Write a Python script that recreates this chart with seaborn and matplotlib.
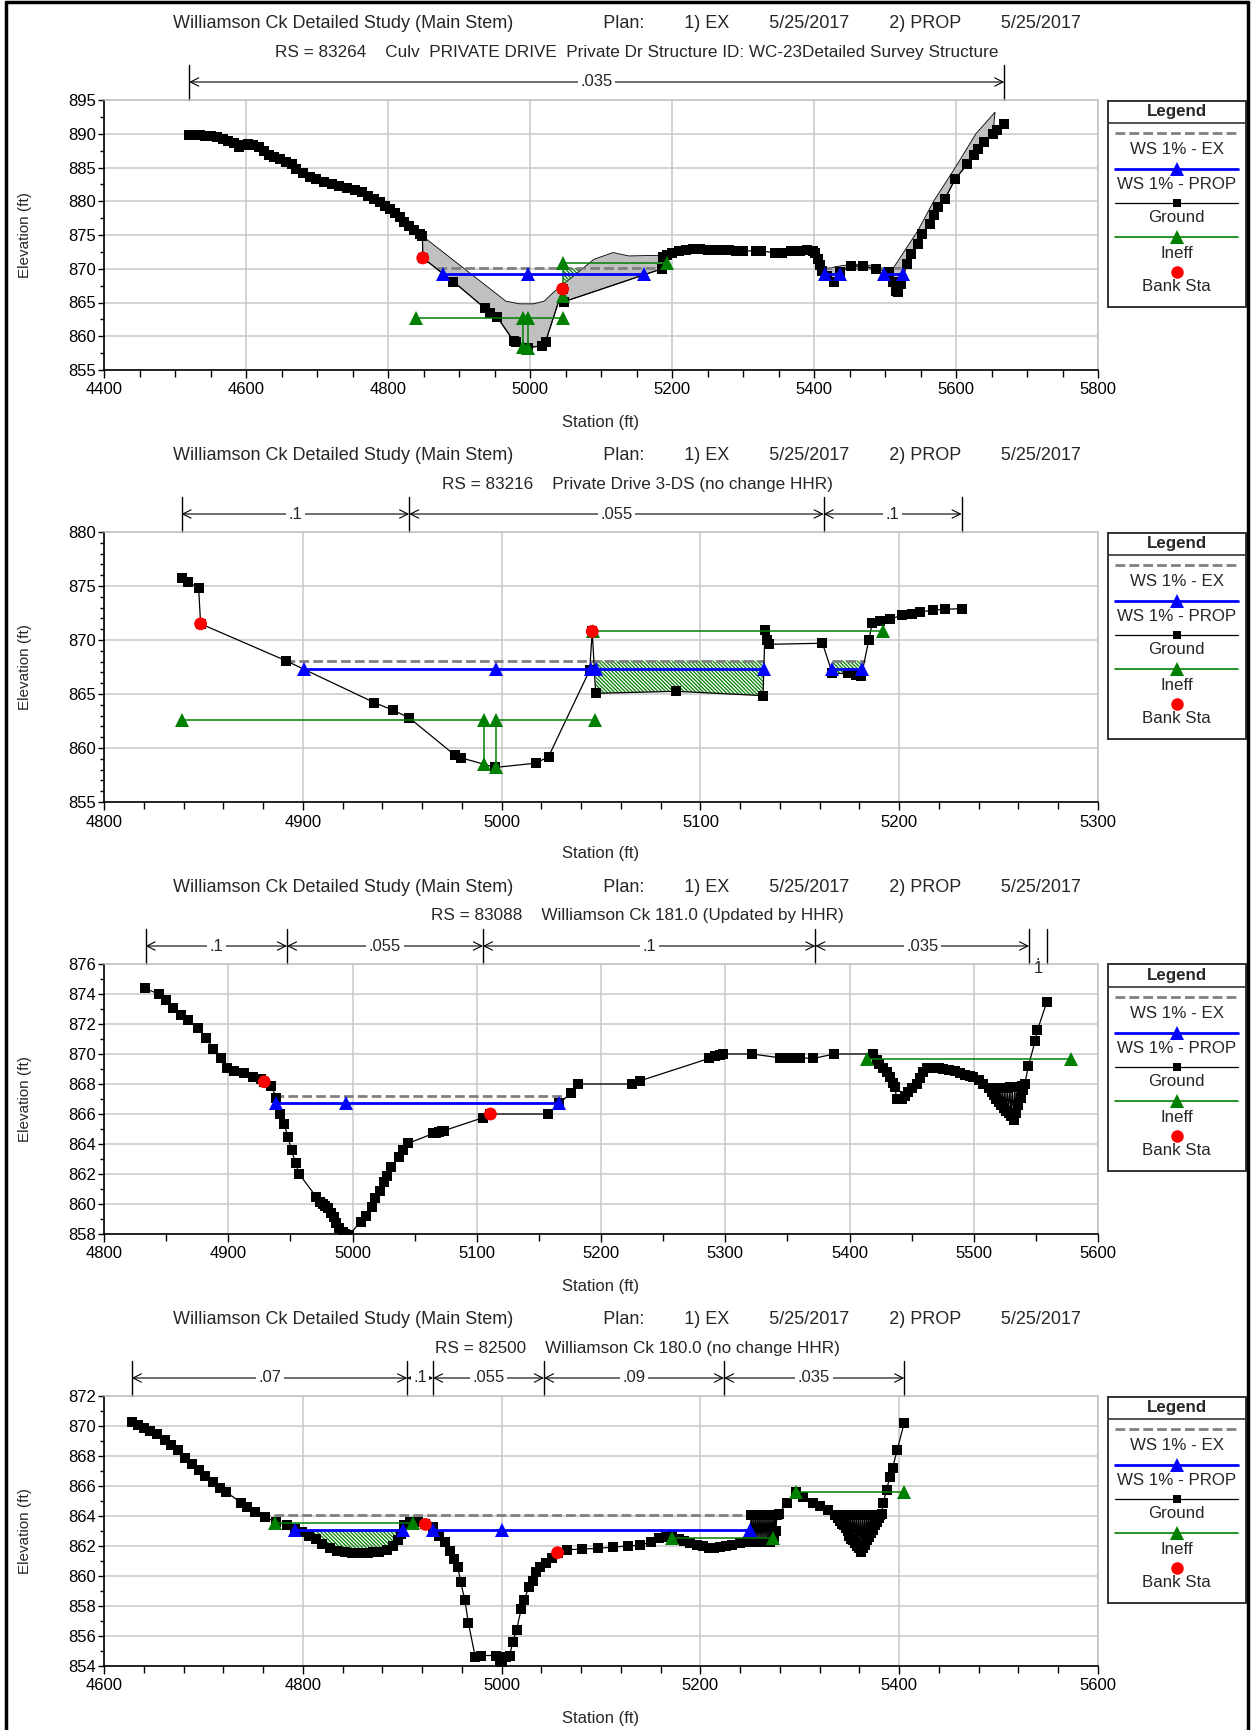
import numpy as np
import pandas as pd
import matplotlib
matplotlib.use("Agg")
import matplotlib.pyplot as plt
import matplotlib.transforms as mtransforms
from matplotlib.lines import Line2D
from matplotlib.patches import Rectangle
from matplotlib.ticker import MultipleLocator
import seaborn as sns

sns.set_theme(style="white")
plt.rcParams["font.family"] = ["Liberation Sans", "DejaVu Sans"]
plt.rcParams["hatch.linewidth"] = 0.9

# ---------------------------------------------------------------- data
plan_title = ("Williamson Ck Detailed Study (Main Stem)" + " " * 18 + "Plan:" + " " * 8
              + "1) EX" + " " * 8 + "5/25/2017" + " " * 8 + "2) PROP" + " " * 8
              + "5/25/2017")

# RS 83264 - culvert section
p1_subtitle = ("RS = 83264    Culv  PRIVATE DRIVE  Private Dr Structure ID: "
               "WC-23Detailed Survey Structure")
p1_ground = np.array([
    (4519.7, 889.85), (4526.7, 889.8), (4534.8, 889.75), (4542.9, 889.65), (4550.9, 889.6),
    (4559.0, 889.45), (4567.1, 889.26), (4575.2, 889.0), (4583.3, 888.6), (4589.8, 888.1),
    (4595.1, 888.27), (4602.2, 888.5), (4610.2, 888.4), (4618.3, 888.0), (4625.3, 887.5),
    (4631.8, 886.9), (4639.9, 886.5), (4648.0, 886.2), (4656.1, 885.8), (4664.2, 885.45),
    (4670.6, 884.8), (4680.3, 884.16), (4690.0, 883.66), (4699.2, 883.3), (4710.0, 882.9),
    (4720.8, 882.5), (4731.5, 882.2), (4742.3, 881.9), (4753.1, 881.7), (4763.9, 881.3),
    (4772.0, 880.8), (4780.0, 880.3), (4788.1, 879.85), (4796.2, 879.36), (4802.7, 878.86),
    (4809.7, 878.27), (4816.2, 877.6), (4823.2, 877.0), (4830.2, 876.4), (4836.7, 875.7),
    (4844.7, 875.15), (4848.5, 874.85), (4849.0, 871.6), (4892.0, 868.1), (4936.0, 864.2),
    (4944.0, 863.5), (4954.0, 862.8), (4977.0, 859.3), (4980.0, 859.1), (4997.0, 858.3),
    (5017.0, 858.6), (5022.0, 859.2), (5046.0, 867.0), (5047.5, 865.1), (5186.0, 870.0),
    (5188.0, 871.8), (5193.0, 872.0), (5200.0, 872.3), (5210.0, 872.6), (5220.0, 872.8),
    (5230.0, 872.9), (5240.0, 872.9), (5250.0, 872.85), (5260.0, 872.8), (5270.0, 872.8),
    (5280.0, 872.75), (5290.0, 872.7), (5300.0, 872.7), (5318.0, 872.6), (5326.0, 872.6),
    (5345.0, 872.4), (5355.0, 872.4), (5368.0, 872.6), (5380.0, 872.7), (5390.0, 872.75),
    (5398.0, 872.7), (5402.0, 872.3), (5405.0, 871.5), (5408.0, 870.5), (5411.0, 869.7),
    (5419.0, 869.0), (5428.0, 868.0), (5437.0, 869.5), (5452.0, 870.4), (5469.0, 870.4),
    (5487.0, 870.0), (5505.0, 869.5), (5511.0, 868.0), (5516.0, 866.7), (5519.0, 866.5),
    (5522.0, 867.7), (5531.0, 870.7), (5537.0, 872.2), (5546.0, 873.7), (5552.0, 875.1),
    (5564.0, 876.6), (5569.0, 877.9), (5575.0, 879.1), (5584.0, 880.3), (5599.0, 883.3),
    (5616.0, 885.5), (5625.0, 886.8), (5631.0, 887.8), (5640.0, 888.8), (5652.0, 890.0),
    (5658.0, 890.5), (5668.0, 891.5),
])
# roadway / culvert deck outlines (station, high-chord elevation)
p1_deck = [
    np.array([(4848.5, 874.85), (4966, 865.2), (4985, 864.8), (5005, 864.8), (5020, 865.2),
              (5033, 866.5), (5090, 871.4), (5117, 872.4), (5139, 871.9), (5188, 872.0)]),
    np.array([(5411, 869.7), (5430, 870.3), (5455, 870.7), (5480, 870.5), (5505, 869.8)]),
    np.array([(5511, 870.0), (5546, 875.6), (5569, 880.1), (5599, 885.0), (5628, 890.0),
              (5655, 893.2)]),
]
p1_ws_ex_elev = 870.1
p1_ws_ex = [(4869, 5187), (5411, 5528)]
p1_ws_prop_elev = 869.2
p1_ws_prop = [[4878, 4997, 5160], [5415, 5437], [5499, 5526]]
p1_ineff = [
    [(4839, 862.7), (4990, 862.7), (4990, 858.4)],
    [(4997, 858.3), (4997, 862.7), (5047, 862.7)],
    [(5047, 866.0), (5047, 870.8), (5193, 870.8)],
]
p1_hatch = [("deck0", 5047, 5076, 870.1)]
p1_bank = [(4849, 871.6), (5046, 867.0)]
p1_n_sta = [4520, 5668]
p1_n_val = [".035"]

# RS 83216
p2_subtitle = "RS = 83216    Private Drive 3-DS (no change HHR)"
p2_ground = np.array([
    (4839.0, 875.7), (4842.3, 875.4), (4847.6, 874.8), (4848.6, 871.5), (4891.3, 868.1),
    (4936.0, 864.2), (4945.4, 863.5), (4953.5, 862.8), (4976.4, 859.35), (4979.5, 859.1),
    (4996.8, 858.2), (5017.4, 858.6), (5023.6, 859.2), (5044.3, 867.2), (5045.6, 870.8),
    (5047.3, 865.06), (5087.6, 865.25), (5131.5, 864.85), (5132.5, 870.96), (5133.5, 870.0),
    (5134.4, 869.6), (5161.4, 869.7), (5166.4, 866.9), (5174.3, 866.9), (5178.5, 866.8),
    (5181.0, 866.7), (5184.7, 870.0), (5186.5, 871.6), (5190.3, 871.8), (5195.3, 871.9),
    (5201.2, 872.3), (5206.2, 872.45), (5210.4, 872.6), (5217.0, 872.75), (5223.0, 872.85),
    (5231.4, 872.9),
])
p2_ws_ex_elev = 868.1
p2_ws_ex = [(4891, 5132), (5166, 5183)]
p2_ws_prop_elev = 867.35
p2_ws_prop = [[4900.6, 4997.2, 5045.0, 5047.3, 5132.0], [5166.0, 5181.5]]
p2_ineff = [
    [(4839, 862.6), (4991, 862.6), (4991, 858.5)],
    [(4997, 858.2), (4997, 862.6), (5047, 862.6)],
    [(5046, 870.85), (5192, 870.85)],
]
p2_hatch = [("ground", 5047.3, 5131.5, 868.1), ("ground", 5166.4, 5181.0, 868.1)]
p2_bank = [(4848.6, 871.5), (5045.6, 870.8)]
p2_n_sta = [4839, 4953.5, 5162, 5231.4]
p2_n_val = [".1", ".055", ".1"]

# RS 83088
p3_subtitle = "RS = 83088    Williamson Ck 181.0 (Updated by HHR)"
p3_ground = np.array([
    (4833.2, 874.37), (4844.0, 874.0), (4849.5, 873.6), (4855.7, 873.1), (4861.8, 872.6),
    (4868.0, 872.25), (4875.7, 871.7), (4881.8, 871.1), (4888.0, 870.36), (4894.0, 869.7),
    (4898.8, 869.1), (4904.9, 868.9), (4912.6, 868.7), (4920.3, 868.5), (4926.5, 868.35),
    (4929.0, 868.15), (4934.2, 867.9), (4938.8, 867.1), (4941.8, 866.0), (4945.0, 865.35),
    (4948.0, 864.45), (4951.0, 863.6), (4954.2, 862.7), (4957.2, 862.0), (4971.0, 860.45),
    (4974.0, 860.1), (4976.0, 860.0), (4978.0, 859.85), (4980.3, 859.7), (4982.5, 859.4),
    (4985.0, 859.1), (4987.0, 858.75), (4989.5, 858.4), (4992.0, 858.15), (4994.2, 858.0),
    (4997.2, 857.95), (5006.5, 858.8), (5011.0, 859.2), (5015.7, 859.8), (5018.5, 860.4),
    (5021.8, 860.9), (5025.0, 861.5), (5028.0, 861.9), (5031.0, 862.45), (5037.2, 863.1),
    (5040.3, 863.6), (5045.0, 864.05), (5065.0, 864.7), (5067.0, 864.75), (5069.5, 864.8),
    (5072.0, 864.85), (5074.0, 864.9), (5104.9, 865.75), (5111.0, 866.0), (5157.2, 866.0),
    (5166.5, 866.7), (5175.7, 867.4), (5181.8, 868.0), (5224.9, 868.0), (5231.0, 868.2),
    (5286.8, 869.7), (5291.4, 869.85), (5295.4, 869.96), (5298.0, 870.0), (5321.5, 870.0),
    (5343.8, 869.75), (5346.5, 869.75), (5349.0, 869.75), (5352.0, 869.75), (5360.0, 869.75),
    (5370.7, 869.7), (5387.6, 870.0), (5419.0, 870.0), (5421.8, 869.6), (5424.0, 869.35),
    (5427.0, 869.1), (5430.0, 868.8), (5432.5, 868.5), (5435.0, 868.1), (5436.6, 867.8),
    (5437.9, 867.0), (5440.0, 867.0), (5442.0, 867.0), (5445.0, 867.2), (5447.3, 867.5),
    (5450.5, 867.7), (5454.0, 868.0), (5456.7, 868.4), (5459.0, 868.8), (5462.0, 869.1),
    (5467.5, 869.1), (5472.0, 869.05), (5475.5, 869.0), (5480.0, 868.95), (5485.0, 868.9),
    (5489.0, 868.75), (5493.0, 868.6), (5497.0, 868.55), (5499.7, 868.5), (5504.0, 868.3),
    (5507.8, 868.0), (5512.0, 867.7), (5515.0, 867.5), (5516.0, 867.3), (5517.0, 867.7),
    (5518.0, 867.0), (5519.0, 867.7), (5520.0, 866.8), (5521.0, 867.7), (5522.0, 866.6),
    (5523.0, 867.7), (5524.0, 866.4), (5525.0, 867.7), (5526.0, 866.2), (5527.0, 867.7),
    (5528.0, 866.1), (5529.0, 867.8), (5530.0, 865.9), (5531.0, 867.8), (5532.0, 865.6),
    (5533.0, 867.8), (5534.0, 866.1), (5535.0, 867.8), (5536.0, 866.6), (5537.0, 867.8),
    (5538.0, 867.1), (5539.0, 867.9), (5540.0, 867.6), (5541.0, 868.0), (5544.0, 869.2),
    (5549.5, 870.9), (5551.3, 871.6), (5558.9, 873.5),
])
p3_ws_ex_elev = 867.17
p3_ws_ex = [(4937, 5171)]
p3_ws_prop_elev = 866.7
p3_ws_prop = [[4938.4, 4994.8, 5166.0]]
p3_ineff = [[(5414, 869.65), (5578, 869.65)]]
p3_hatch = []
p3_bank = [(4929.0, 868.15), (5111.0, 866.0)]
p3_n_sta = [4833.5, 4947.3, 5105, 5372.5, 5544.5, 5559]
p3_n_val = [".1", ".055", ".1", ".035", ".1"]

# RS 82500
p4_subtitle = "RS = 82500    Williamson Ck 180.0 (no change HHR)"
p4_ground = np.array([
    (4627.7, 870.27), (4634.3, 870.05), (4640.0, 869.9), (4645.9, 869.7), (4653.6, 869.45),
    (4661.3, 869.1), (4667.0, 868.76), (4674.8, 868.4), (4681.3, 867.9), (4688.2, 867.45),
    (4696.0, 867.05), (4701.7, 866.65), (4709.4, 866.27), (4717.1, 865.9), (4723.0, 865.6),
    (4737.6, 864.9), (4744.1, 864.6), (4751.8, 864.27), (4761.5, 863.93), (4773.0, 863.6),
    (4784.6, 863.4), (4792.3, 863.15), (4799.0, 862.95), (4805.8, 862.7), (4813.5, 862.44),
    (4819.3, 862.15), (4827.0, 861.9), (4834.7, 861.7), (4842.4, 861.6), (4850.0, 861.55),
    (4857.5, 861.55), (4865.5, 861.55), (4871.0, 861.57), (4877.0, 861.6), (4884.8, 861.75),
    (4890.6, 861.97), (4895.6, 862.38), (4898.3, 862.8), (4902.1, 863.4), (4908.0, 863.6),
    (4915.6, 863.6), (4923.3, 863.44), (4931.0, 863.27), (4936.8, 862.7), (4942.6, 862.26),
    (4948.4, 861.7), (4952.2, 861.15), (4956.0, 860.6), (4958.8, 859.6), (4963.0, 858.4),
    (4966.5, 856.9), (4973.4, 854.63), (4979.2, 854.7), (4994.6, 854.7), (4998.5, 854.14),
    (5000.4, 854.3), (5004.2, 854.6), (5008.1, 854.7), (5011.2, 855.6), (5015.0, 856.4),
    (5019.7, 857.8), (5022.7, 858.4), (5027.4, 859.26), (5031.2, 859.7), (5035.0, 860.26),
    (5039.0, 860.6), (5044.7, 860.9), (5050.5, 861.2), (5056.3, 861.55), (5066.0, 861.75),
    (5081.3, 861.8), (5096.7, 861.84), (5112.0, 861.93), (5127.5, 862.0), (5139.0, 862.06),
    (5150.7, 862.26), (5158.4, 862.53), (5165.0, 862.6), (5171.6, 862.65), (5178.0, 862.5),
    (5183.3, 862.33), (5190.0, 862.2), (5196.7, 862.1), (5203.0, 862.0), (5208.4, 861.9),
    (5214.0, 861.9), (5220.0, 861.93), (5226.0, 862.0), (5231.8, 862.1), (5240.0, 862.2),
    (5246.8, 862.26), (5250.0, 862.4), (5251.0, 864.1), (5252.0, 862.3), (5253.0, 864.1),
    (5254.0, 862.3), (5255.0, 864.1), (5256.0, 862.3), (5257.0, 864.1), (5258.0, 862.3),
    (5259.0, 864.1), (5260.0, 862.3), (5261.0, 864.1), (5262.0, 862.3), (5263.0, 864.1),
    (5264.0, 862.3), (5265.0, 864.1), (5266.0, 862.3), (5267.0, 864.1), (5268.0, 862.3),
    (5269.0, 864.1), (5270.0, 862.3), (5271.0, 864.1), (5272.0, 862.4), (5273.0, 864.1),
    (5274.0, 862.6), (5275.0, 864.1), (5276.0, 863.0), (5277.0, 864.1), (5278.6, 864.15),
    (5287.0, 864.87), (5296.3, 865.6), (5303.7, 865.27), (5313.7, 864.9), (5320.4, 864.7),
    (5328.8, 864.4), (5335.5, 864.04), (5337.0, 864.1), (5338.0, 863.9), (5339.0, 864.1),
    (5340.0, 863.7), (5341.0, 864.1), (5342.0, 863.5), (5343.0, 864.1), (5344.0, 863.4),
    (5345.0, 864.1), (5346.0, 863.2), (5347.0, 864.1), (5348.0, 863.0), (5349.0, 864.1),
    (5350.0, 862.7), (5351.0, 864.1), (5352.0, 862.5), (5353.0, 864.1), (5354.0, 862.4),
    (5355.0, 864.1), (5356.0, 862.2), (5357.0, 864.1), (5358.0, 862.0), (5359.0, 864.1),
    (5360.0, 861.9), (5361.0, 864.1), (5362.0, 861.6), (5363.0, 864.1), (5364.0, 861.9),
    (5365.0, 864.1), (5366.0, 862.1), (5367.0, 864.1), (5368.0, 862.4), (5369.0, 864.1),
    (5370.0, 862.6), (5371.0, 864.1), (5372.0, 862.9), (5373.0, 864.1), (5374.0, 863.1),
    (5375.0, 864.1), (5376.0, 863.4), (5377.0, 864.1), (5378.0, 863.6), (5379.0, 864.1),
    (5380.0, 863.9), (5381.0, 864.1), (5382.3, 864.15), (5384.0, 864.9), (5387.3, 865.76),
    (5390.6, 866.6), (5393.3, 867.2), (5398.0, 868.4), (5405.0, 870.2),
])
p4_ws_ex_elev = 864.1
p4_ws_ex = [(4757, 5250)]
p4_ws_prop_elev = 863.1
p4_ws_prop = [[4792.3, 4901.0], [4931.0, 5000.0, 5250.2]]
p4_ineff = [
    [(4772.3, 863.55), (4911.0, 863.55)],
    [(5171.9, 862.55), (5272.9, 862.55)],
    [(5296.3, 865.6), (5405.0, 865.6)],
]
p4_hatch = [("ground", 4792.3, 4901.0, 863.1)]
p4_bank = [(4923.3, 863.44), (5056.3, 861.55)]
p4_n_sta = [4628, 4905, 4931, 5042.6, 5223.8, 5405]
p4_n_val = [".07", ".1", ".055", ".09", ".035"]

panels = [
    dict(sub=p1_subtitle, ground=p1_ground, deck=p1_deck, ex=p1_ws_ex, ex_z=p1_ws_ex_elev,
         prop=p1_ws_prop, prop_z=p1_ws_prop_elev, ineff=p1_ineff, hatch=p1_hatch,
         bank=p1_bank, n_sta=p1_n_sta, n_val=p1_n_val,
         xlim=(4400, 5800), xmaj=200, xmin=50, ylim=(855, 895), ymaj=5, ymin=2.5),
    dict(sub=p2_subtitle, ground=p2_ground, deck=[], ex=p2_ws_ex, ex_z=p2_ws_ex_elev,
         prop=p2_ws_prop, prop_z=p2_ws_prop_elev, ineff=p2_ineff, hatch=p2_hatch,
         bank=p2_bank, n_sta=p2_n_sta, n_val=p2_n_val,
         xlim=(4800, 5300), xmaj=100, xmin=20, ylim=(855, 880), ymaj=5, ymin=1),
    dict(sub=p3_subtitle, ground=p3_ground, deck=[], ex=p3_ws_ex, ex_z=p3_ws_ex_elev,
         prop=p3_ws_prop, prop_z=p3_ws_prop_elev, ineff=p3_ineff, hatch=p3_hatch,
         bank=p3_bank, n_sta=p3_n_sta, n_val=p3_n_val,
         xlim=(4800, 5600), xmaj=100, xmin=50, ylim=(858, 876), ymaj=2, ymin=1),
    dict(sub=p4_subtitle, ground=p4_ground, deck=[], ex=p4_ws_ex, ex_z=p4_ws_ex_elev,
         prop=p4_ws_prop, prop_z=p4_ws_prop_elev, ineff=p4_ineff, hatch=p4_hatch,
         bank=p4_bank, n_sta=p4_n_sta, n_val=p4_n_val,
         xlim=(4600, 5600), xmaj=200, xmin=40, ylim=(854, 872), ymaj=2, ymin=1),
]

# ---------------------------------------------------------------- layout
W, H = 1255, 1730
AX_L, AX_R = 104, 1098
AX_TOPS = [100, 532, 964, 1396]
AX_H = 270
LEG_L, LEG_R, LEG_H = 1107, 1246, 207

C_EX = "#808080"
C_PROP = "#0000ff"
C_INEFF = "#008000"
C_BANK = "#ff0000"
C_DECK = "#c0c0c0"

fig = plt.figure(figsize=(W / 100, H / 100), dpi=100)


def px_rect(left, top, right, bottom):
    return [left / W, 1 - bottom / H, (right - left) / W, (bottom - top) / H]


def fig_text(x, y, s, **kw):
    fig.text(x / W, 1 - y / H, s, **kw)


def draw_legend(top):
    lax = fig.add_axes(px_rect(LEG_L, top, LEG_R, top + LEG_H))
    lax.set_xlim(0, LEG_R - LEG_L)
    lax.set_ylim(LEG_H, 0)
    lax.axis("off")
    wbox = LEG_R - LEG_L
    lax.add_patch(Rectangle((0.5, 0.5), wbox - 1, LEG_H - 1, fill=False,
                            ec="#333333", lw=1.4, clip_on=False))
    lax.plot([0.5, wbox - 0.5], [23.3, 23.3], color="#333333", lw=1.2, clip_on=False)
    lax.text(wbox / 2, 11.5, "Legend", ha="center", va="center", fontsize=12.2,
             fontweight="bold")
    xs = [8, wbox / 2, wbox - 8]
    lax.plot([xs[0], xs[2]], [33.3, 33.3], color=C_EX, lw=2, dashes=(3.5, 1.5))
    lax.plot(xs, [68.7] * 3, color=C_PROP, lw=2, marker="^", markersize=10,
             markeredgewidth=0, markevery=[1])
    lax.plot(xs, [103.3] * 3, color="black", lw=0.9, marker="s", markersize=5.5,
             markeredgewidth=0, markevery=[1])
    lax.plot(xs, [137.3] * 3, color=C_INEFF, lw=1.2, marker="^", markersize=10,
             markeredgewidth=0, markevery=[1])
    lax.plot([xs[1]], [171.7], color=C_BANK, marker="o", markersize=9, lw=0,
             markeredgewidth=0)
    for y, lab in zip([49.3, 84.3, 117.7, 153.3, 186.7],
                      ["WS 1% - EX", "WS 1% - PROP", "Ground", "Ineff", "Bank Sta"]):
        lax.text(wbox / 2, y, lab, ha="center", va="center", fontsize=12.2)


def hatch_area(ax, base, a, b, level):
    inner = (base[:, 0] > a) & (base[:, 0] < b)
    xs = np.concatenate([[a], base[inner, 0], [b]])
    ys = np.interp(xs, base[:, 0], base[:, 1])
    ax.fill_between(xs, ys, level, where=ys <= level, interpolate=True,
                    facecolor="none", edgecolor=C_INEFF, hatch="\\" * 9, lw=0,
                    zorder=1.5)


def draw_panel(top, cfg):
    bottom = top + AX_H
    ax = fig.add_axes(px_rect(AX_L, top, AX_R, bottom))
    ground = cfg["ground"]

    # culvert / roadway deck polygons
    for chord in cfg["deck"]:
        a, b = chord[0, 0], chord[-1, 0]
        m = (ground[:, 0] >= a) & (ground[:, 0] <= b)
        px = np.concatenate([chord[:, 0], ground[m, 0][::-1]])
        py = np.concatenate([chord[:, 1], ground[m, 1][::-1]])
        ax.fill(px, py, facecolor=C_DECK, edgecolor="black", lw=0.6, zorder=1)

    # ineffective areas under water
    for kind, a, b, level in cfg["hatch"]:
        base = cfg["deck"][0] if kind == "deck0" else ground
        hatch_area(ax, base, a, b, level)

    # existing water surface
    for a, b in cfg["ex"]:
        ax.plot([a, b], [cfg["ex_z"]] * 2, color=C_EX, lw=2, dashes=(3.5, 1.5),
                zorder=2)

    # ground profile
    gdf = pd.DataFrame(ground, columns=["Station (ft)", "Elevation (ft)"])
    sns.lineplot(data=gdf, x="Station (ft)", y="Elevation (ft)", sort=False,
                 estimator=None, color="black", lw=0.9, marker="s", markersize=6.5,
                 markeredgewidth=0, ax=ax, zorder=3)

    # ineffective flow limits
    for poly in cfg["ineff"]:
        poly = np.asarray(poly)
        ax.plot(poly[:, 0], poly[:, 1], color=C_INEFF, lw=1.1, marker="^",
                markersize=10, markeredgewidth=0, zorder=4)

    # proposed water surface
    rows = []
    for i, seg in enumerate(cfg["prop"]):
        for s in seg:
            rows.append((i, s, cfg["prop_z"]))
    pdf = pd.DataFrame(rows, columns=["seg", "Station (ft)", "Elevation (ft)"])
    sns.lineplot(data=pdf, x="Station (ft)", y="Elevation (ft)", units="seg",
                 estimator=None, sort=False, color=C_PROP, lw=2, marker="^",
                 markersize=10, markeredgewidth=0, ax=ax, zorder=5)

    # bank stations
    bdf = pd.DataFrame(cfg["bank"], columns=["Station (ft)", "Elevation (ft)"])
    sns.scatterplot(data=bdf, x="Station (ft)", y="Elevation (ft)", color=C_BANK,
                    s=85, edgecolor="none", ax=ax, zorder=6)

    # axes styling
    ax.set_xlim(*cfg["xlim"])
    ax.set_ylim(*cfg["ylim"])
    ax.xaxis.set_major_locator(MultipleLocator(cfg["xmaj"]))
    ax.xaxis.set_minor_locator(MultipleLocator(cfg["xmin"]))
    ax.yaxis.set_major_locator(MultipleLocator(cfg["ymaj"]))
    ax.yaxis.set_minor_locator(MultipleLocator(cfg["ymin"]))
    ax.grid(True, which="major", color="#c8c8c8", lw=1.1)
    ax.set_axisbelow(True)
    ax.tick_params(axis="both", which="both", direction="out", colors="black",
                   bottom=True, left=True, top=False, right=False, labelsize=12)
    ax.tick_params(axis="x", which="major", length=6, width=1, pad=3)
    ax.tick_params(axis="x", which="minor", length=5, width=1)
    ax.tick_params(axis="y", which="major", length=4.5, width=1, pad=1)
    ax.tick_params(axis="y", which="minor", length=3, width=1)
    for side in ("left", "bottom"):
        ax.spines[side].set_color("black")
        ax.spines[side].set_linewidth(1.2)
    for side in ("top", "right"):
        ax.spines[side].set_color("#c0c0c0")
        ax.spines[side].set_linewidth(1.1)
    ax.set_xlabel("")
    ax.set_ylabel("")

    # Manning's n brackets above the plot
    trans = mtransforms.blended_transform_factory(ax.transData, ax.transAxes)
    yb = 1 + 18 / AX_H
    yv = 1 + 35 / AX_H
    x0, x1 = cfg["xlim"]
    for s in cfg["n_sta"]:
        ax.plot([s, s], [1.0, yv], transform=trans, color="black", lw=1,
                clip_on=False)
    n_sta = cfg["n_sta"]
    for a, b, lab in zip(n_sta[:-1], n_sta[1:], cfg["n_val"]):
        wpx = (b - a) * (AX_R - AX_L) / (x1 - x0)
        if wpx > 22:
            ax.annotate("", xy=(a, yb), xytext=(b, yb), xycoords=trans,
                        textcoords=trans, annotation_clip=False,
                        arrowprops=dict(arrowstyle="<->,head_length=0.3,head_width=0.15",
                                        lw=0.8, color="black", shrinkA=0, shrinkB=0,
                                        mutation_scale=20))
            ax.text((a + b) / 2, yb, lab, transform=trans, ha="center", va="center",
                    fontsize=12, zorder=10, clip_on=False,
                    bbox=dict(boxstyle="square,pad=0.15", fc="white", ec="none"))
        else:
            ax.text((a + b) / 2, yb - 2 / AX_H, "\n".join(lab), transform=trans,
                    ha="center", va="top", fontsize=12, linespacing=0.8,
                    zorder=10, clip_on=False)

    # titles and axis labels
    fig_text(627, top - 76, plan_title, ha="center", va="center", fontsize=13)
    fig_text(637, top - 48, cfg["sub"], ha="center", va="center", fontsize=12.3)
    fig_text(25, top + AX_H / 2, "Elevation (ft)", rotation=90, ha="center",
             va="center", fontsize=11)
    fig_text((AX_L + AX_R) / 2, bottom + 52, "Station (ft)", ha="center",
             va="center", fontsize=12)
    draw_legend(top)


for top, cfg in zip(AX_TOPS, panels):
    draw_panel(top, cfg)

# page frame
frame_kw = dict(transform=fig.transFigure, color="black", lw=2.5)
fig.add_artist(Line2D([5.5 / W, 5.5 / W], [0, 1 - 1.5 / H], **frame_kw))
fig.add_artist(Line2D([5.5 / W, 1248 / W], [1 - 1.5 / H, 1 - 1.5 / H], **frame_kw))
fig.add_artist(Line2D([1248 / W, 1248 / W], [0, 1 - 1.5 / H], **frame_kw))

fig.savefig("out.png", dpi=100)
